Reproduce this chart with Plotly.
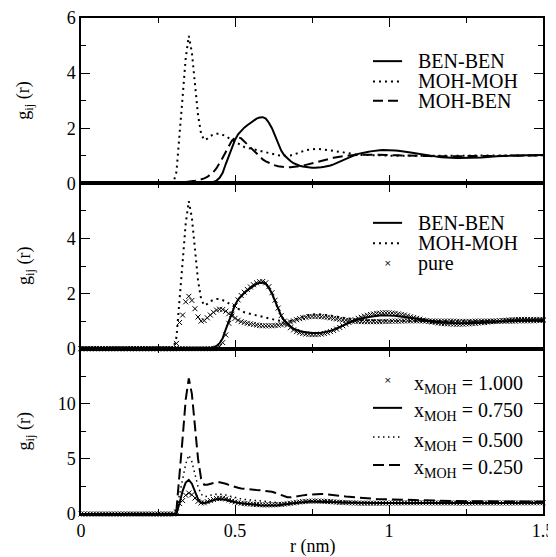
import numpy as np
import plotly.graph_objects as go

# ---------------- data ----------------
r_nm = np.round(np.arange(0, 151) * 0.01, 2)  # sampling grid 0.00 .. 1.50 nm

lead_zero = [0.0, 0.0, 0.0, 0.0, 0.0, 0.0, 0.0, 0.0, 0.0, 0.0,
             0.0, 0.0, 0.0, 0.0, 0.0, 0.0, 0.0, 0.0, 0.0, 0.0,
             0.0, 0.0, 0.0, 0.0, 0.0, 0.0, 0.0, 0.0, 0.0, 0.0]  # r = 0.00 .. 0.29

moh_moh = lead_zero + [
    0.02, 0.42, 1.68, 3.15, 4.55, 5.35, 4.75, 3.6, 2.47, 1.8,
    1.57, 1.62, 1.72, 1.77, 1.8, 1.8, 1.77, 1.72, 1.64, 1.57,
    1.51, 1.44, 1.37, 1.32, 1.29, 1.26, 1.23, 1.21, 1.19, 1.16,
    1.12, 1.09, 1.06, 1.04, 1.02, 1.01, 1.0, 1.0, 1.01, 1.04,
    1.08, 1.13, 1.17, 1.2, 1.22, 1.24, 1.25, 1.25, 1.24, 1.23,
    1.22, 1.2, 1.18, 1.16, 1.14, 1.12, 1.1, 1.08, 1.06, 1.05,
    1.04, 1.03, 1.03, 1.02, 1.02, 1.02, 1.02, 1.01, 1.01, 1.01,
    1.01, 1.0, 1.0, 1.0, 0.99, 0.99, 0.99, 0.99, 0.99, 0.99,
    0.99, 0.99, 0.99, 0.99, 0.99, 0.99, 0.99, 0.99, 0.99, 0.99,
    0.99, 0.99, 0.99, 0.99, 0.99, 1.0, 1.0, 1.0, 1.0, 1.0,
    1.0, 1.0, 1.0, 1.0, 1.0, 1.0, 1.0, 1.0, 1.01, 1.01,
    1.01, 1.01, 1.01, 1.01, 1.01, 1.01, 1.01, 1.01, 1.02, 1.02,
    1.02]

ben_ben = lead_zero + [
    0.0, 0.0, 0.0, 0.0, 0.0, 0.0, 0.0, 0.0, 0.0, 0.0,
    0.0, 0.01, 0.02, 0.05, 0.1, 0.2, 0.38, 0.7, 1.02, 1.3,
    1.58, 1.78, 1.92, 2.02, 2.11, 2.2, 2.28, 2.35, 2.39, 2.4,
    2.35, 2.2, 2.0, 1.73, 1.45, 1.19, 1.02, 0.91, 0.81, 0.73,
    0.68, 0.64, 0.61, 0.59, 0.58, 0.57, 0.57, 0.57, 0.58, 0.6,
    0.62, 0.65, 0.69, 0.74, 0.79, 0.85, 0.9, 0.95, 0.99, 1.03,
    1.07, 1.1, 1.12, 1.14, 1.16, 1.18, 1.19, 1.2, 1.21, 1.21,
    1.21, 1.2, 1.19, 1.18, 1.17, 1.16, 1.14, 1.12, 1.1, 1.08,
    1.07, 1.05, 1.03, 1.01, 0.99, 0.97, 0.96, 0.95, 0.94, 0.93,
    0.93, 0.92, 0.92, 0.92, 0.92, 0.92, 0.92, 0.92, 0.93, 0.93,
    0.94, 0.95, 0.95, 0.96, 0.97, 0.98, 0.98, 0.99, 1.0, 1.0,
    1.01, 1.01, 1.02, 1.02, 1.02, 1.03, 1.03, 1.03, 1.03, 1.03,
    1.03]

moh_ben = lead_zero + [
    0.0, 0.01, 0.02, 0.03, 0.04, 0.05, 0.07, 0.09, 0.11, 0.14,
    0.18, 0.23, 0.31, 0.41, 0.55, 0.72, 0.93, 1.14, 1.37, 1.55,
    1.65, 1.68, 1.63, 1.52, 1.4, 1.29, 1.17, 1.06, 0.96, 0.87,
    0.8, 0.74, 0.69, 0.65, 0.62, 0.6, 0.59, 0.58, 0.58, 0.59,
    0.6, 0.62, 0.64, 0.67, 0.7, 0.73, 0.76, 0.79, 0.82, 0.86,
    0.89, 0.91, 0.93, 0.95, 0.97, 0.99, 1.0, 1.01, 1.02, 1.03,
    1.03, 1.04, 1.04, 1.04, 1.04, 1.04, 1.04, 1.03, 1.03, 1.03,
    1.03, 1.02, 1.02, 1.02, 1.01, 1.01, 1.01, 1.0, 1.0, 1.0,
    0.99, 0.99, 0.99, 0.99, 0.98, 0.98, 0.98, 0.98, 0.98, 0.98,
    0.98, 0.98, 0.98, 0.98, 0.98, 0.98, 0.98, 0.99, 0.99, 0.99,
    0.99, 0.99, 0.99, 1.0, 1.0, 1.0, 1.0, 1.0, 1.0, 1.0,
    1.0, 1.0, 1.0, 1.0, 1.01, 1.01, 1.01, 1.01, 1.01, 1.01,
    1.01]

pure_ben = lead_zero + [
    0.0, 0.0, 0.0, 0.0, 0.0, 0.0, 0.0, 0.0, 0.0, 0.0,
    0.0, 0.0, 0.0, 0.0, 0.02, 0.08, 0.22, 0.5, 0.92, 1.25,
    1.55, 1.77, 1.93, 2.05, 2.15, 2.24, 2.32, 2.39, 2.43, 2.44,
    2.39, 2.25, 2.03, 1.76, 1.47, 1.2, 1.0, 0.86, 0.76, 0.68,
    0.62, 0.58, 0.55, 0.53, 0.52, 0.51, 0.51, 0.52, 0.53, 0.55,
    0.58, 0.62, 0.66, 0.71, 0.77, 0.83, 0.89, 0.95, 1.0, 1.05,
    1.1, 1.14, 1.18, 1.21, 1.24, 1.26, 1.28, 1.29, 1.3, 1.3,
    1.3, 1.29, 1.28, 1.26, 1.24, 1.22, 1.19, 1.16, 1.13, 1.1,
    1.07, 1.04, 1.01, 0.99, 0.97, 0.95, 0.93, 0.92, 0.91, 0.9,
    0.9, 0.89, 0.89, 0.89, 0.89, 0.9, 0.9, 0.91, 0.92, 0.93,
    0.94, 0.95, 0.96, 0.98, 0.99, 1.0, 1.01, 1.02, 1.03, 1.04,
    1.05, 1.05, 1.06, 1.06, 1.06, 1.06, 1.06, 1.06, 1.06, 1.06,
    1.06]

pure_moh = lead_zero + [
    0.0, 0.19, 0.95, 1.22, 1.7, 1.9, 1.75, 1.45, 1.15, 1.0,
    1.02, 1.12, 1.22, 1.32, 1.4, 1.43, 1.42, 1.36, 1.27, 1.18,
    1.1, 1.03, 0.98, 0.95, 0.92, 0.9, 0.88, 0.86, 0.84, 0.83,
    0.83, 0.83, 0.83, 0.84, 0.85, 0.87, 0.9, 0.93, 0.97, 1.01,
    1.05, 1.09, 1.12, 1.14, 1.16, 1.17, 1.17, 1.17, 1.16, 1.15,
    1.14, 1.12, 1.1, 1.08, 1.06, 1.04, 1.03, 1.02, 1.01, 1.0,
    0.99, 0.98, 0.98, 0.98, 0.98, 0.98, 0.98, 0.98, 0.99, 0.99,
    0.99, 1.0, 1.0, 1.0, 1.0, 1.01, 1.01, 1.01, 1.01, 1.01,
    1.01, 1.01, 1.01, 1.0, 1.0, 1.0, 1.0, 1.0, 1.0, 1.0,
    1.0, 1.0, 0.99, 0.99, 0.99, 0.99, 0.99, 0.99, 1.0, 1.0,
    1.0, 1.0, 1.0, 1.0, 1.0, 1.0, 1.0, 1.0, 1.0, 1.0,
    1.0, 1.0, 1.01, 1.01, 1.01, 1.01, 1.01, 1.01, 1.02, 1.02,
    1.02]

moh_x075 = lead_zero + [
    0.0, 0.05, 1.0, 2.1, 2.85, 3.1, 2.75, 2.0, 1.35, 1.03,
    0.98, 1.05, 1.15, 1.25, 1.33, 1.37, 1.35, 1.29, 1.21, 1.13,
    1.07, 1.02, 0.98, 0.94, 0.9, 0.87, 0.84, 0.82, 0.8, 0.78,
    0.77, 0.77, 0.77, 0.78, 0.8, 0.82, 0.85, 0.89, 0.93, 0.97,
    1.01, 1.04, 1.07, 1.09, 1.11, 1.12, 1.12, 1.12, 1.11, 1.1,
    1.09, 1.08, 1.07, 1.06, 1.05, 1.04, 1.03, 1.02, 1.01, 1.0,
    1.0, 0.99, 0.99, 0.99, 0.99, 0.99, 0.99, 0.99, 0.99, 1.0,
    1.0, 1.0, 1.0, 1.0, 1.0, 1.0, 1.0, 1.0, 1.0, 1.0,
    1.0, 1.0, 1.0, 1.0, 1.0, 1.0, 1.0, 1.0, 1.0, 1.0,
    1.0, 1.0, 1.0, 1.0, 1.0, 1.0, 1.0, 1.0, 1.0, 1.0,
    1.0, 1.0, 1.0, 1.0, 1.0, 1.0, 1.0, 1.0, 1.0, 1.0,
    1.0, 1.0, 1.0, 1.0, 1.0, 1.01, 1.01, 1.01, 1.01, 1.01,
    1.01]

moh_x025 = lead_zero + [
    0.0, 0.4, 3.3, 6.9, 10.4, 12.3, 10.9, 7.6, 5.0, 3.2,
    2.65, 2.65, 2.75, 2.84, 2.88, 2.87, 2.82, 2.74, 2.64, 2.54,
    2.45, 2.38, 2.32, 2.28, 2.25, 2.22, 2.2, 2.18, 2.16, 2.14,
    2.12, 2.08, 2.02, 1.93, 1.82, 1.7, 1.58, 1.52, 1.51, 1.54,
    1.59, 1.64, 1.69, 1.73, 1.76, 1.79, 1.81, 1.82, 1.82, 1.81,
    1.79, 1.76, 1.73, 1.7, 1.66, 1.63, 1.59, 1.56, 1.53, 1.5,
    1.47, 1.45, 1.43, 1.41, 1.39, 1.38, 1.36, 1.35, 1.34, 1.33,
    1.32, 1.31, 1.3, 1.29, 1.28, 1.27, 1.26, 1.25, 1.24, 1.23,
    1.22, 1.21, 1.21, 1.2, 1.2, 1.19, 1.19, 1.19, 1.18, 1.18,
    1.18, 1.17, 1.17, 1.17, 1.17, 1.16, 1.16, 1.16, 1.16, 1.15,
    1.15, 1.15, 1.15, 1.14, 1.14, 1.14, 1.14, 1.13, 1.13, 1.13,
    1.13, 1.12, 1.12, 1.12, 1.12, 1.12, 1.11, 1.11, 1.11, 1.11,
    1.11]

moh_x050 = moh_moh    # x_MOH = 0.500 is the mixture shown in the upper panels
moh_x100 = pure_moh   # x_MOH = 1.000 is pure methanol

top_labels = ["BEN-BEN", "MOH-MOH", "MOH-BEN"]
mid_labels = ["BEN-BEN", "MOH-MOH", "pure"]
bot_labels = ["x<sub>MOH</sub> = 1.000", "x<sub>MOH</sub> = 0.750",
              "x<sub>MOH</sub> = 0.500", "x<sub>MOH</sub> = 0.250"]

# ---------------- figure ----------------
FONT = "Liberation Serif, Times New Roman, DejaVu Serif, serif"
fig = go.Figure()
XA = {"y": "x", "y2": "x2", "y3": "x3"}

def line(y, ya, dash="solid", width=2.0):
    fig.add_trace(go.Scatter(x=r_nm, y=y, xaxis=XA[ya], yaxis=ya, mode="lines",
                             line=dict(color="black", width=width, dash=dash),
                             showlegend=False, hoverinfo="skip"))

def marks(y, ya):
    fig.add_trace(go.Scatter(x=r_nm, y=y, xaxis=XA[ya], yaxis=ya, mode="markers",
                             marker=dict(symbol="x-thin", size=5, color="black",
                                         line=dict(color="black", width=1)),
                             cliponaxis=False, showlegend=False, hoverinfo="skip"))

DOT = "2px,4px"
DASH = "10px,5px"
FINEDOT = "1.5px,3.5px"
BOTDASH = "11px,5px"

# top panel
line(ben_ben, "y3")
line(moh_moh, "y3", DOT)
line(moh_ben, "y3", DASH)
# middle panel
line(ben_ben, "y2")
line(moh_moh, "y2", DOT)
marks(pure_ben, "y2")
marks(pure_moh, "y2")
# bottom panel
marks(moh_x100, "y")
line(moh_x075, "y")
line(moh_x050, "y", FINEDOT, 1.5)
line(moh_x025, "y", BOTDASH)

ax_common = dict(showline=True, linecolor="black", linewidth=1.5, mirror="ticks",
                 ticks="inside", tickcolor="black", tickwidth=1.2, ticklen=9,
                 showgrid=False, zeroline=False, automargin=False,
                 tickfont=dict(family=FONT, size=18, color="black"))

xmajor = [0, 0.5, 1, 1.5]
xmajor_text = ["0", "0.5", "1", "1.5"]

def minor(vals):
    return dict(tickvals=vals, ticks="inside", ticklen=5, tickcolor="black",
                tickwidth=1.2, showgrid=False)

# the page body adds an 8 px offset, so the figure is 8 px smaller than the window
fig.update_layout(
    width=548, height=549,
    margin=dict(l=73, r=13, t=10, b=43, autoexpand=False),
    paper_bgcolor="white", plot_bgcolor="white",
    font=dict(family=FONT, color="black"),
    showlegend=False,
    xaxis=dict(ax_common, domain=[0, 1], anchor="y", range=[0, 1.5],
               tickvals=xmajor, ticktext=xmajor_text, minor=minor([0.25, 0.75, 1.25])),
    xaxis2=dict(ax_common, domain=[0, 1], anchor="y2", range=[0, 1.5], matches="x",
                tickvals=xmajor, showticklabels=False, minor=minor([0.25, 0.75, 1.25])),
    xaxis3=dict(ax_common, domain=[0, 1], anchor="y3", range=[0, 1.5], matches="x",
                tickvals=xmajor, showticklabels=False, minor=minor([0.25, 0.75, 1.25])),
    yaxis=dict(ax_common, domain=[0, 1 / 3], anchor="x", range=[0, 15],
               tickvals=[0, 5, 10, 15], ticktext=["0", "5", "10", ""],
               minor=minor([2.5, 7.5, 12.5])),
    yaxis2=dict(ax_common, domain=[1 / 3, 2 / 3], anchor="x2", range=[0, 6],
                tickvals=[0, 2, 4, 6], ticktext=["0", "2", "4", ""],
                minor=minor([1, 3, 5])),
    yaxis3=dict(ax_common, domain=[2 / 3, 1], anchor="x3", range=[0, 6],
                tickvals=[0, 2, 4, 6], ticktext=["0", "2", "4", "6"],
                minor=minor([1, 3, 5])),
)

# axis titles
TITLE = dict(family=FONT, size=18, color="black")
for yc in [1 / 6, 0.5, 5 / 6]:
    fig.add_annotation(text="g<sub>ij</sub> (r)", xref="paper", yref="paper",
                       x=-0.121, y=yc, textangle=-90, showarrow=False,
                       xanchor="center", yanchor="middle", font=TITLE)
fig.add_annotation(text="r (nm)", xref="paper", yref="paper", x=0.5, y=-0.066,
                   showarrow=False, xanchor="center", yanchor="middle", font=TITLE)

# hand-drawn legends (compact spacing as in the original)
LEG = dict(family=FONT, size=20, color="black")
KX0, KX1, KXM, TX = 0.632, 0.695, 0.6635, 0.725

def key_line(yp, dash, width=2.0):
    fig.add_shape(type="line", xref="paper", yref="paper", x0=KX0, x1=KX1, y0=yp, y1=yp,
                  line=dict(color="black", width=width, dash=dash))

def key_mark(yp):
    fig.add_annotation(text="×", xref="paper", yref="paper", x=KXM, y=yp,
                       showarrow=False, xanchor="center", yanchor="middle",
                       font=dict(family="DejaVu Sans", size=9, color="black"))

def key_text(yp, txt, tx=TX):
    fig.add_annotation(text=txt, xref="paper", yref="paper", x=tx, y=yp,
                       showarrow=False, xanchor="left", yanchor="middle", font=LEG)

top_rows = [0.913, 0.872, 0.833]
key_line(top_rows[0], "solid")
key_line(top_rows[1], DOT)
key_line(top_rows[2], DASH)
for yp, t in zip(top_rows, top_labels):
    key_text(yp, t)

mid_rows = [0.587, 0.546, 0.506]
key_line(mid_rows[0], "solid")
key_line(mid_rows[1], DOT)
key_mark(mid_rows[2])
for yp, t in zip(mid_rows, mid_labels):
    key_text(yp, t)

bot_rows = [0.270, 0.214, 0.155, 0.099]
key_mark(bot_rows[0])
key_line(bot_rows[1], "solid")
key_line(bot_rows[2], FINEDOT, 1.5)
key_line(bot_rows[3], BOTDASH)
for yp, t in zip(bot_rows, bot_labels):
    key_text(yp - 0.008, t, 0.716)

fig.write_html("out.html")
